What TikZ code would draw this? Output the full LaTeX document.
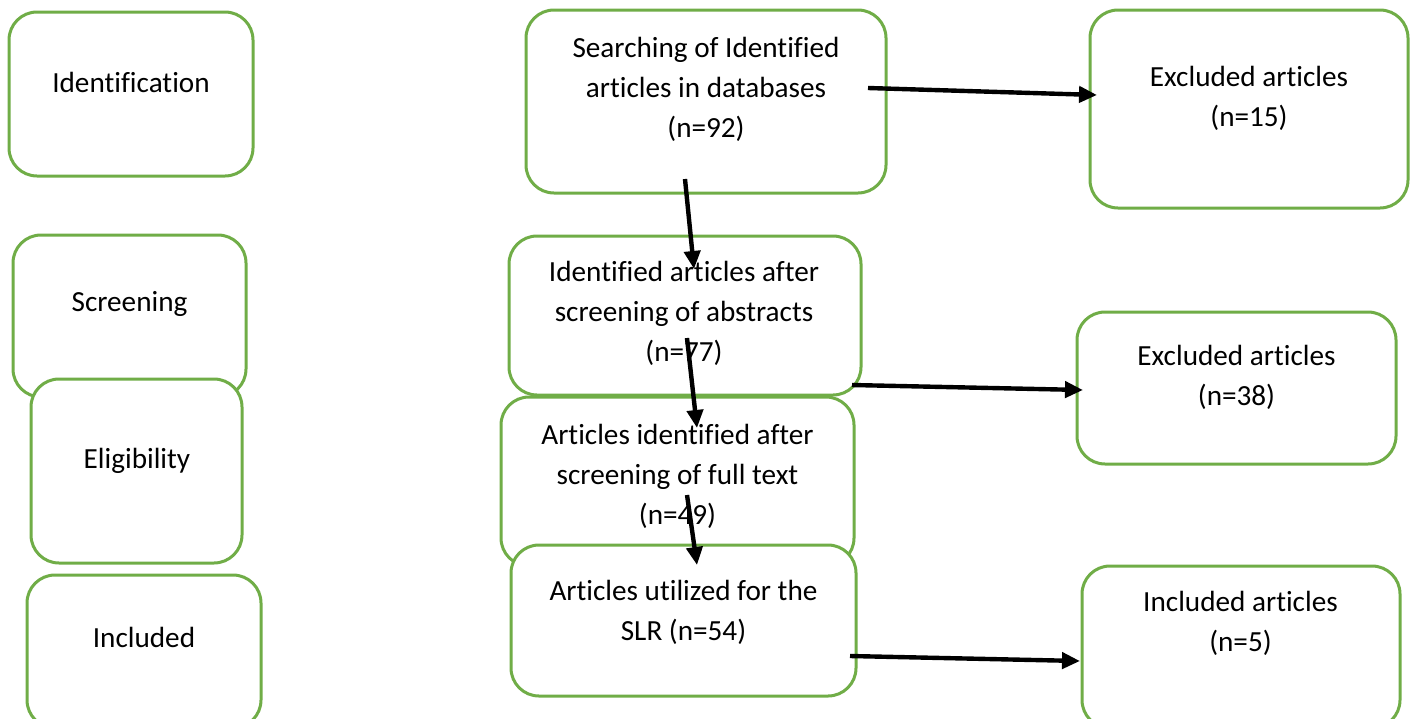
\documentclass[tikz,border=0pt]{standalone}
\usepackage{fontspec}
\setmainfont{Carlito}[Ligatures=CommonOff]
\usetikzlibrary{calc,arrows.meta}

\definecolor{stagegreen}{RGB}{112,173,71}

\tikzset{every picture/.style={line width=0.75pt}}
\tikzset{
  stagebox/.style={draw=stagegreen, line width=1.5pt, fill=white, rounded corners=14pt, inner sep=0pt, outer sep=0pt},
  boxtext/.style={inner sep=0pt, align=center, font=\fontsize{14.6}{20}\selectfont},
  flowarrow/.style={line width=2.2pt, -{Triangle[length=9pt,width=8pt]}}
}

\begin{document}
\begin{tikzpicture}[x=0.5pt,y=0.5pt,yscale=-1,xscale=1]
\useasboundingbox (0,0) rectangle (1413,718);

%Shape: Rounded Rect (stages)
\node[stagebox, minimum width=122pt, minimum height=82pt] (ident) at (131,94) {};
\node[stagebox, minimum width=116.5pt, minimum height=81pt] (screen) at (129.5,316) {};
\node[stagebox, minimum width=105.5pt, minimum height=92pt] (elig) at (136.5,471) {};
\node[stagebox, minimum width=117pt, minimum height=76.5pt] (incl) at (144,651.5) {};

% Text Node
\node[boxtext] (identtxt) at (131,82) {Identification};
% Text Node
\node[boxtext] (screentxt) at (129.5,304) {Screening};
% Text Node
\node[boxtext] (eligtxt) at (137,461) {Eligibility};
% Text Node
\node[boxtext] (incltxt) at (144,637) {Included};

%Shape: Rounded Rect (flow)
\node[stagebox, minimum width=180pt, minimum height=91.5pt] (search) at (706,101.5) {};
% Text Node
\node[boxtext] (searchtxt) at (706,89) {Searching of Identified\\articles in databases\\(n=92)};
\node[stagebox, minimum width=176pt, minimum height=79.5pt] (abstr) at (685,315.5) {};
% Text Node
\node[boxtext] (abstrtxt) at (684,313) {Identified articles after\\screening of abstracts\\(n=77)};
\node[stagebox, minimum width=176.5pt, minimum height=84.5pt] (fulltext) at (677.5,481.5) {};
% Text Node
\node[boxtext] (fulltexttxt) at (677.5,476) {Articles identified after\\screening of full text\\(n=49)};
\node[stagebox, minimum width=172.5pt, minimum height=75.5pt] (slr) at (683.5,620.5) {};
% Text Node
\node[boxtext] (slrtxt) at (683.5,612) {Articles utilized for the\\SLR (n=54)};

%Shape: Rounded Rect (outcomes)
\node[stagebox, minimum width=159pt, minimum height=99pt] (excla) at (1249,109) {};
% Text Node
\node[boxtext] (exclatxt) at (1249,98.5) {Excluded articles\\(n=15)};
\node[stagebox, minimum width=159.5pt, minimum height=76pt] (exclb) at (1236.5,388) {};
% Text Node
\node[boxtext] (exclbtxt) at (1236.5,377.5) {Excluded articles\\(n=38)};
\node[stagebox, minimum width=159pt, minimum height=81pt] (inclart) at (1241,647) {};
% Text Node
\node[boxtext] (inclarttxt) at (1240.5,623.5) {Included articles\\(n=5)};

%Straight Lines
\draw[flowarrow] ($(search.east)+(-18,-13.5)$) -- ($(excla.west)+(7,-14)$);
\draw[flowarrow] ($(search.south)+(-21,-14)$) -- ($(abstr.north)+(9,33)$);
\draw[flowarrow] ($(abstr.south)+(2,-57)$) -- ($(fulltext.north)+(19.5,31)$);
\draw[flowarrow] ($(abstr.south east)+(-9,-10)$) -- ($(exclb.west)+(6,2)$);
\draw[flowarrow] ($(fulltext.center)+(9.5,13.5)$) -- ($(slr.north)+(13.5,20)$);
\draw[flowarrow] ($(slr.east)+(-6,35.5)$) -- ($(inclart.west)+(-2,14)$);
\end{tikzpicture}
\end{document}
